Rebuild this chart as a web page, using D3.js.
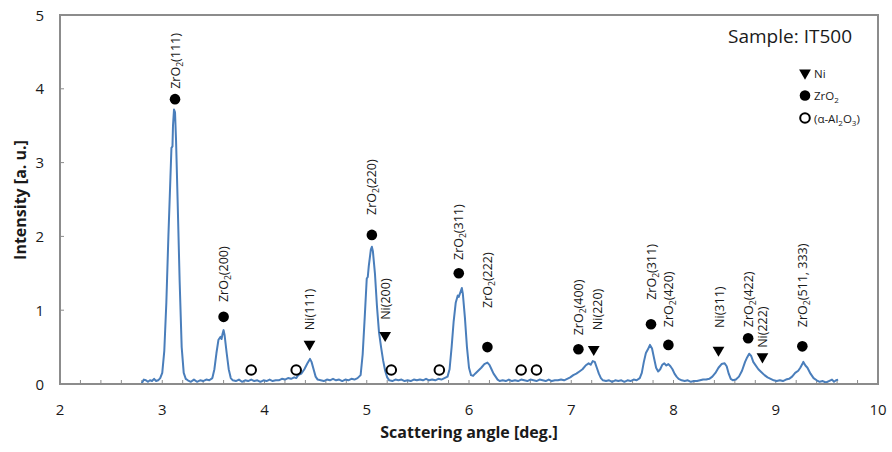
<!DOCTYPE html>
<html><head><meta charset="utf-8">
<script src="https://cdn.jsdelivr.net/npm/d3@7"></script>
<style>body{margin:0;background:#fff}svg{display:block}text{font-family:"Open Sans",Lato,sans-serif;fill:#1a1a1a}</style>
</head><body><svg id="c" width="892" height="452"></svg>
<script>
// ---- data ----
const angle = [2.80,2.82,2.84,2.86,2.88,2.90,2.92,2.94,2.96,2.98,
3.00,3.02,3.04,3.06,3.08,3.09,3.10,3.105,3.115,3.125,3.135,3.15,3.17,3.19,3.21,3.23,
3.25,3.28,3.31,3.34,3.37,3.40,3.43,3.46,
3.49,3.51,3.53,3.55,3.57,3.58,3.59,3.60,3.61,3.63,3.65,3.67,3.69,
3.72,3.75,3.78,3.81,3.84,3.87,3.90,3.93,3.96,3.99,4.02,4.05,4.08,4.11,4.14,4.17,4.20,4.23,4.26,
4.29,4.31,4.33,4.36,4.39,4.42,4.445,4.46,4.48,4.50,4.52,4.55,
4.58,4.61,4.64,4.67,4.70,4.73,4.76,4.79,4.82,4.85,4.88,4.91,
4.94,4.96,4.98,5.00,5.01,5.02,5.04,5.05,5.06,5.08,5.10,5.12,5.14,5.16,5.18,5.20,5.22,
5.25,5.28,5.31,5.34,5.37,5.40,5.43,5.46,5.49,5.52,5.55,5.58,5.61,5.64,5.67,5.70,5.73,5.76,5.79,
5.81,5.83,5.85,5.87,5.89,5.90,5.92,5.93,5.94,5.96,5.98,6.00,6.02,6.04,
6.06,6.09,6.12,6.15,6.18,6.20,6.22,6.24,6.26,6.28,6.30,
6.33,6.36,6.39,6.42,6.45,6.48,6.51,6.54,6.57,6.60,6.63,6.66,6.69,6.72,6.75,6.78,6.81,6.84,6.87,6.90,6.93,6.96,6.99,
7.02,7.05,7.08,7.11,7.14,7.17,7.19,7.21,7.23,7.25,7.27,7.29,7.31,
7.34,7.37,7.40,7.43,7.46,7.49,7.52,7.55,7.58,7.61,7.64,7.67,
7.69,7.71,7.73,7.75,7.77,7.79,7.81,7.83,7.85,
7.87,7.89,7.91,7.93,7.95,7.97,7.99,8.01,8.03,8.05,8.08,
8.11,8.14,8.17,8.20,8.23,8.26,8.29,8.32,8.35,
8.38,8.41,8.44,8.47,8.50,8.52,8.54,8.56,8.58,8.61,8.64,
8.67,8.70,8.72,8.74,8.76,8.78,8.80,8.83,8.86,8.89,8.92,8.95,8.98,9.01,
9.04,9.07,9.10,9.13,9.16,
9.19,9.22,9.24,9.26,9.27,9.29,9.31,9.34,9.37,9.40,9.43,9.46,9.49,9.52,9.55,9.57,9.59,9.61];
const intensity = [0.01,0.06,0.05,0.03,0.05,0.04,0.07,0.04,0.05,0.08,
0.15,0.45,1.10,2.00,2.80,3.20,3.22,3.50,3.72,3.68,3.30,2.50,1.40,0.50,0.15,0.07,
0.05,0.03,0.06,0.03,0.05,0.04,0.06,0.05,
0.08,0.20,0.42,0.60,0.64,0.61,0.68,0.73,0.66,0.42,0.20,0.08,0.05,
0.04,0.06,0.03,0.05,0.04,0.06,0.04,0.05,0.03,0.05,0.04,0.06,0.04,0.05,0.05,0.07,0.06,0.08,0.07,
0.09,0.08,0.12,0.14,0.20,0.28,0.34,0.30,0.20,0.10,0.06,0.05,
0.04,0.06,0.05,0.07,0.05,0.06,0.04,0.06,0.05,0.07,0.06,0.08,
0.12,0.40,0.90,1.43,1.45,1.60,1.82,1.86,1.80,1.50,1.05,0.70,0.50,0.32,0.18,0.09,0.05,
0.04,0.06,0.05,0.06,0.04,0.05,0.04,0.06,0.05,0.06,0.05,0.07,0.05,0.06,0.05,0.07,0.06,0.08,0.10,
0.20,0.50,0.85,1.10,1.20,1.18,1.26,1.30,1.22,0.90,0.50,0.22,0.12,0.11,
0.14,0.18,0.22,0.27,0.29,0.26,0.20,0.14,0.10,0.06,0.04,
0.05,0.04,0.06,0.04,0.05,0.04,0.06,0.05,0.04,0.06,0.05,0.04,0.06,0.05,0.04,0.06,0.04,0.05,0.05,0.06,0.05,0.07,0.09,
0.12,0.14,0.17,0.20,0.25,0.28,0.26,0.31,0.30,0.22,0.14,0.08,0.05,
0.04,0.05,0.03,0.05,0.04,0.05,0.03,0.05,0.04,0.06,0.05,0.08,
0.15,0.30,0.42,0.47,0.53,0.48,0.35,0.22,0.17,
0.20,0.26,0.28,0.25,0.27,0.24,0.20,0.14,0.10,0.07,0.05,
0.04,0.05,0.03,0.04,0.04,0.05,0.06,0.06,0.07,
0.10,0.15,0.22,0.27,0.28,0.24,0.14,0.07,0.05,0.06,0.10,
0.18,0.30,0.36,0.41,0.38,0.30,0.26,0.20,0.16,0.12,0.09,0.07,0.05,0.04,
0.05,0.04,0.06,0.07,0.10,
0.15,0.18,0.22,0.27,0.30,0.25,0.22,0.14,0.08,0.05,0.03,0.04,0.02,0.04,0.06,0.03,0.05,0.06];

const zrX = [3.125,3.60,5.05,5.90,6.18,7.07,7.78,7.95,8.73,9.26];
const zrY = [3.86,0.91,2.02,1.50,0.50,0.47,0.81,0.53,0.62,0.51];
const niX = [4.44,5.18,7.22,8.44,8.87];
const niY = [0.54,0.66,0.47,0.46,0.37];
const alX = [3.87,4.31,5.24,5.71,6.51,6.66];
const alY = [0.19,0.19,0.19,0.19,0.19,0.19];

const peakLabels = ["ZrO_2(111)","ZrO_2(200)","Ni(111)","ZrO_2(220)","Ni(200)","ZrO_2(311)","ZrO_2(222)",
  "ZrO_2(400)","Ni(220)","ZrO_2(311)","ZrO_2(420)","Ni(311)","ZrO_2(422)","Ni(222)","ZrO_2(511, 333)"];
const labelX = [3.125,3.60,4.44,5.05,5.18,5.90,6.18,7.07,7.26,7.78,7.95,8.45,8.73,8.87,9.26];
const labelY = [4.00,1.11,0.73,2.29,0.87,1.68,1.03,0.66,0.73,1.14,0.77,0.76,0.77,0.49,0.77];

const xTicks = [2,3,4,5,6,7,8,9,10];
const yTicks = [0,1,2,3,4,5];
const legendItems = [{sym:"tri",text:"Ni"},{sym:"dot",text:"ZrO_2"},{sym:"ring",text:"(α-Al_2O_3)"}];

// ---- drawing ----
const svg = d3.select("#c");
const L=60,R=878,T=15,B=384;
const x = d3.scaleLinear().domain([2,10]).range([L,R]);
const y = d3.scaleLinear().domain([0,5]).range([B,T]);
const axisCol="#8c8c8c";

function richText(sel, str, subSize){
  const parts = str.split(/_(\d)/);
  parts.forEach((p,i)=>{
    if(!p) return;
    if(i%2===1){
      sel.append("tspan").attr("dy",3).attr("font-size",subSize).text(p);
    } else {
      const t = sel.append("tspan").text(p);
      if(i>0) t.attr("dy",-3);
    }
  });
}

// minor ticks (inward)
const minor = d3.range(2.2,10,0.2);
svg.append("g").selectAll("line").data(minor).join("line")
  .attr("x1",d=>x(d)).attr("x2",d=>x(d)).attr("y1",B).attr("y2",B-4)
  .attr("stroke",axisCol).attr("stroke-width",1);
svg.append("g").selectAll("line").data(yTicks.slice(1,-1)).join("line")
  .attr("x1",L).attr("x2",L+4).attr("y1",d=>y(d)).attr("y2",d=>y(d))
  .attr("stroke",axisCol).attr("stroke-width",1);

// spectrum
const pts = angle.map((a,i)=>[a,intensity[i]]);
svg.append("path").datum(pts)
  .attr("d",d3.line().x(d=>x(d[0])).y(d=>y(d[1])))
  .attr("fill","none").attr("stroke","#4a7ebb").attr("stroke-width",2).attr("stroke-linejoin","round");

// frame
svg.append("rect").attr("x",L).attr("y",T).attr("width",R-L).attr("height",B-T)
  .attr("fill","none").attr("stroke",axisCol).attr("stroke-width",2);

// tick labels
svg.append("g").selectAll("text").data(xTicks).join("text")
  .attr("x",d=>x(d)).attr("y",414.5).attr("text-anchor","middle").attr("font-size",15).text(d=>d);
svg.append("g").selectAll("text").data(yTicks).join("text")
  .attr("x",44).attr("y",d=>y(d)+5.5).attr("text-anchor","end").attr("font-size",15).text(d=>d);

// axis titles
svg.append("text").attr("x",469).attr("y",438).attr("text-anchor","middle")
  .attr("font-size",16).attr("font-weight","bold").text("Scattering angle [deg.]");
svg.append("text").attr("transform","translate(26,200) rotate(-90)").attr("text-anchor","middle")
  .attr("font-size",16).attr("font-weight","bold").text("Intensity [a. u.]");

// markers
const tri = d3.symbol().type(d3.symbolTriangle).size(60);
svg.append("g").selectAll("path").data(niX.map((v,i)=>[v,niY[i]])).join("path")
  .attr("d",tri).attr("transform",d=>`translate(${x(d[0])},${y(d[1])}) rotate(180)`).attr("fill","#000");
svg.append("g").selectAll("circle").data(zrX.map((v,i)=>[v,zrY[i]])).join("circle")
  .attr("cx",d=>x(d[0])).attr("cy",d=>y(d[1])).attr("r",5.3).attr("fill","#000");
svg.append("g").selectAll("circle").data(alX.map((v,i)=>[v,alY[i]])).join("circle")
  .attr("cx",d=>x(d[0])).attr("cy",d=>y(d[1])).attr("r",4.8).attr("fill","none").attr("stroke","#000").attr("stroke-width",2);

// peak labels
peakLabels.forEach((s,i)=>{
  const t = svg.append("text")
    .attr("transform",`translate(${x(labelX[i])+4.5},${y(labelY[i])}) rotate(-90)`)
    .attr("font-size",12.5);
  richText(t,s,8.5);
});

// sample label
svg.append("text").attr("x",852).attr("y",43).attr("text-anchor","end").attr("font-size",19).text("Sample: IT500");

// legend
legendItems.forEach((d,i)=>{
  const cy = 73 + i*22.5, cx = 805;
  if(d.sym==="tri") svg.append("path").attr("d",tri).attr("transform",`translate(${cx},${cy}) rotate(180)`).attr("fill","#000");
  if(d.sym==="dot") svg.append("circle").attr("cx",cx).attr("cy",cy).attr("r",5.3).attr("fill","#000");
  if(d.sym==="ring") svg.append("circle").attr("cx",cx).attr("cy",cy).attr("r",4.8).attr("fill","none").attr("stroke","#000").attr("stroke-width",2);
  const t = svg.append("text").attr("x",cx+9).attr("y",cy+4.5).attr("font-size",11.5);
  richText(t,d.text,8);
});
</script></body></html>
